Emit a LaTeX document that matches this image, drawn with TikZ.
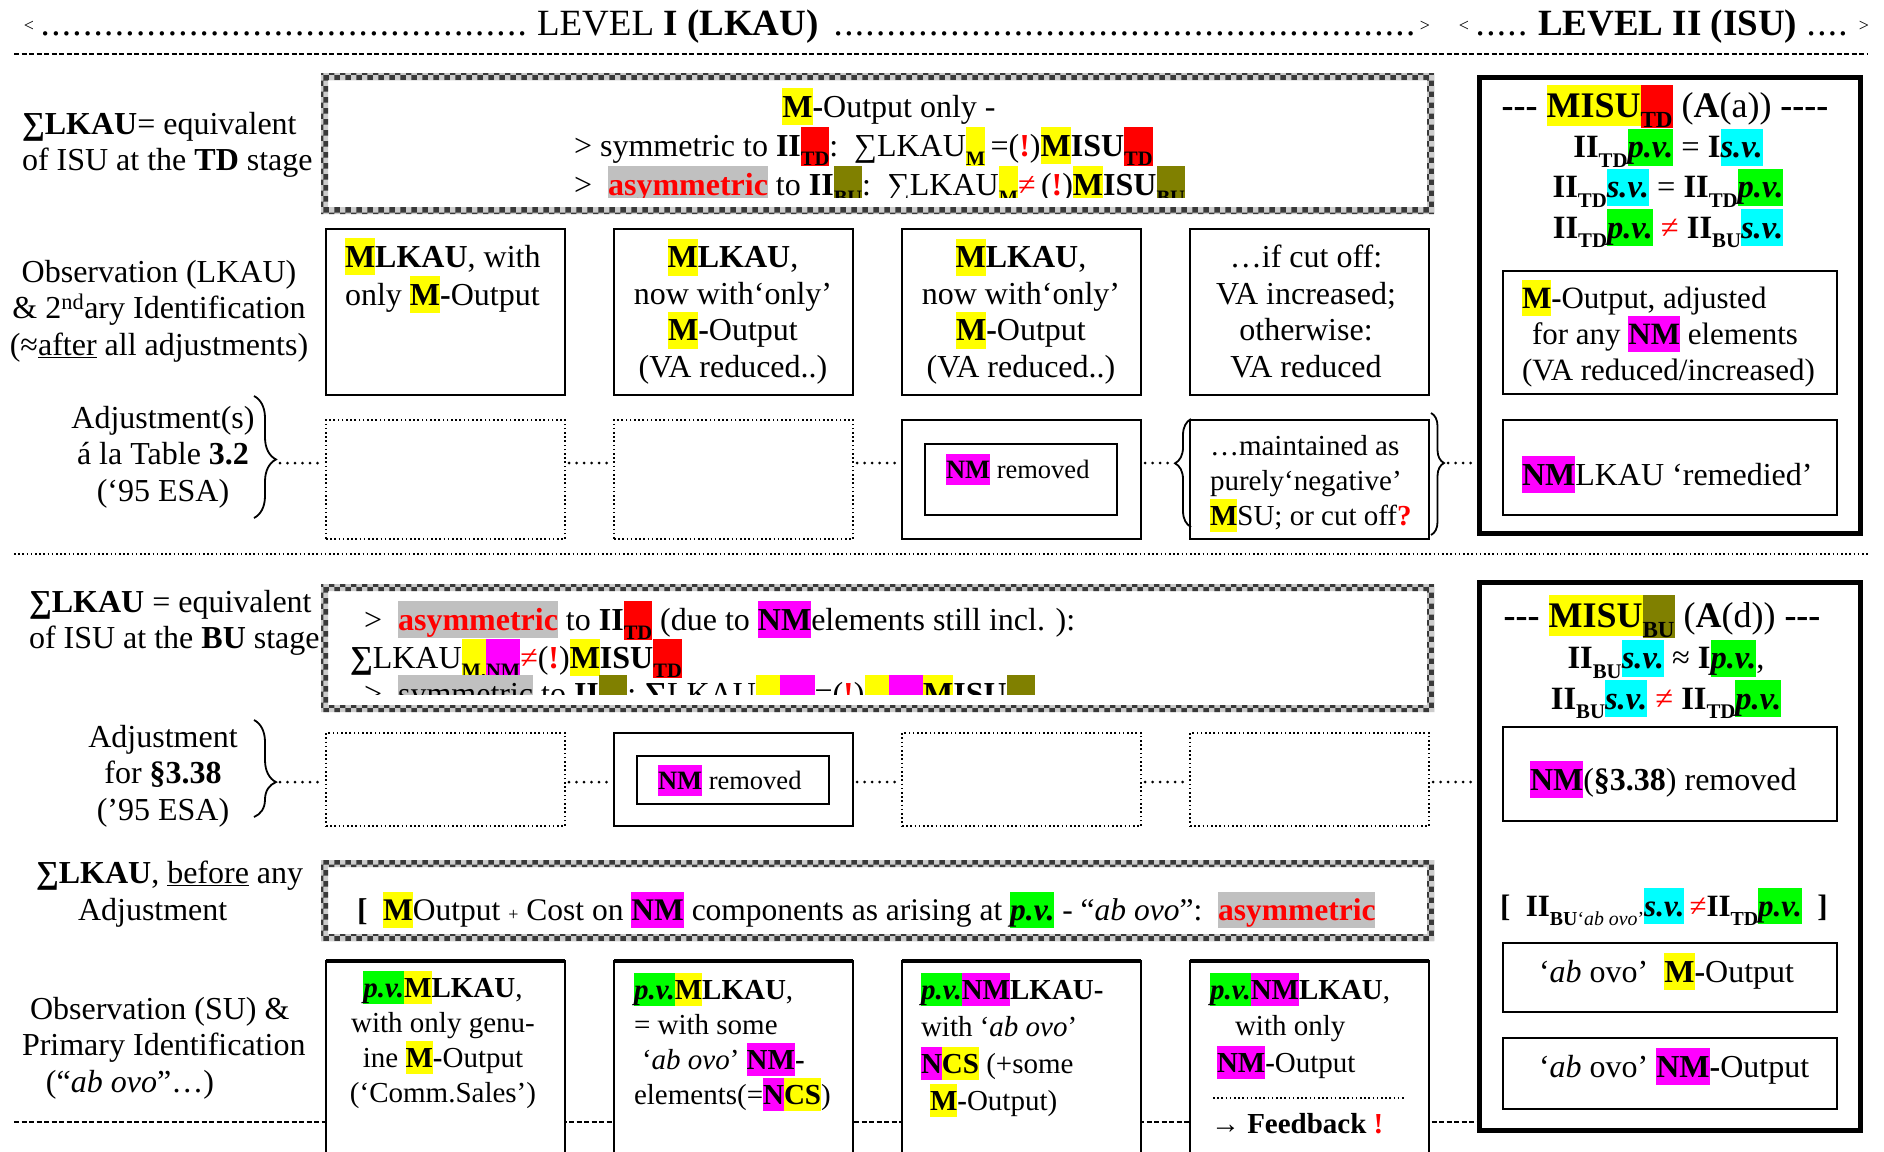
\documentclass[tikz,border=0pt]{standalone}
\usepackage{fontspec}
\setmainfont{Liberation Serif}
\usetikzlibrary{patterns,decorations.pathreplacing}
\definecolor{hy}{HTML}{FFFF00}
\definecolor{hr}{HTML}{FF0000}
\definecolor{hm}{HTML}{FF00FF}
\definecolor{hg}{HTML}{00FF00}
\definecolor{hc}{HTML}{00FFFF}
\definecolor{ho}{HTML}{808000}
\definecolor{hgr}{HTML}{C0C0C0}
\definecolor{rd}{HTML}{FF0000}
\makeatletter
% highlighted run of text, full line height
\newcommand\hl[2]{{\setlength\fboxsep{0pt}\colorbox{#1}{\rule[-0.25em]{0pt}{1.15em}#2}}}
% lowered, smaller index text
\newcommand\lo[1]{\raisebox{-0.3em}{\fontsize{\the\dimexpr0.64\dimexpr\f@size pt\relax\relax}{0pt}\selectfont #1}}
\makeatother
\newcommand\hlM{\hl{hy}{\textbf{M}}}
\newcommand\hlNM{\hl{hm}{\textbf{NM}}}
\newcommand\hlPV{\hl{hg}{\textbf{\textit{p.v.}}}}
\newcommand\hlSV{\hl{hc}{\textbf{\textit{s.v.}}}}
\newcommand\redex{\textcolor{rd}{\textbf{!}}}
\newcommand\asymm{\hl{hgr}{\textcolor{rd}{\textbf{asymmetric}}}}
\newcommand\tdash{\textbf{-{}-{}-}}
\newcommand\dotrun[1]{\hbox to #1{\leaders\hbox to 10.6pt{\hss.\hss}\hfill}}
% grey chequered frame
\newcommand\chkframe[4]{%
  \fill[gray!40,even odd rule] (#1,#2) rectangle (#3,#4) (#1+7,#2+7) rectangle (#3-7,#4-7);
  \fill[pattern=checkerboard,pattern color=gray!45!black,even odd rule] (#1,#2) rectangle (#3,#4) (#1+7,#2+7) rectangle (#3-7,#4-7);}
\begin{document}
\begin{tikzpicture}[x=1pt,y=-1pt,
  every node/.style={inner sep=0pt,outer sep=0pt,font=\fontsize{32}{37}\selectfont},
  tl/.style={anchor=base west},
  tc/.style={anchor=base},
  f32/.style={font=\fontsize{32}{36.5}\selectfont},
  f29/.style={font=\fontsize{29}{35}\selectfont},
  f30/.style={font=\fontsize{30}{37}\selectfont},
  f26/.style={font=\fontsize{26.5}{32}\selectfont},
  ttl/.style={font=\fontsize{36}{37}\selectfont},
  eqn/.style={font=\fontsize{32.5}{37}\selectfont},
  hdr/.style={font=\fontsize{37}{40}\selectfont},
  ang/.style={font=\fontsize{18}{18}\selectfont},
  solidbox/.style={draw,line width=2.6pt,fill=white,anchor=north west},
  dotbox/.style={draw,line width=1.6pt,dash pattern=on 1.6pt off 2.6pt,fill=white,anchor=north west},
  bigbox/.style={draw,line width=5pt,anchor=north west},
  innerbox/.style={draw,line width=2.4pt,anchor=north west},
  dotlink/.style={line width=3pt,line cap=round,dash pattern=on 0pt off 7.5pt,shorten <=4pt,shorten >=4pt},
  cbrace/.style={decorate,line width=1.8pt},
  ruledash/.style={line width=2pt,dash pattern=on 5pt off 2.5pt},
  ruledot/.style={line width=1.8pt,dash pattern=on 1.6pt off 2.6pt},
]
\fill[white] (0,0) rectangle (1884,1151);
\useasboundingbox (0,0) rectangle (1884,1151);

% ---------- header ----------
\node[ang] (ltA) at (29,26) {<};
\node[tl,hdr] (dotA) at (40,35) {\dotrun{489pt}};
\node[tl,hdr] (lvlI) at (537,35) {LEVEL \textbf{I (LKAU)}};
\node[tl,hdr] (dotB) at (833,35) {\dotrun{585pt}};
\node[ang] (gtA) at (1425,26) {>};
\node[ang] (ltB) at (1464,26) {<};
\node[tl,hdr] (dotC) at (1475,35) {\dotrun{53pt}};
\node[tl,hdr] (lvlII) at (1538,35) {\textbf{LEVEL II (ISU)}};
\node[tl,hdr] (dotD) at (1806,35) {\dotrun{44pt}};
\node[ang] (gtB) at (1864,26) {>};
\draw[ruledash] (14,54) -- (1868,54);

% ---------- separators ----------
\draw[ruledot] (14,554) -- (1868,554);
\draw[ruledash] (14,1122) -- (1478,1122);

% ---------- chequered frames ----------
\chkframe{321}{73}{1434}{214}
\chkframe{321}{584}{1434}{712}
\chkframe{321}{860}{1434}{941}

% ---------- left column (multi-line nodes sit on their last baseline) ----------
\node[tl] (lab1a) at (22,134) {\textbf{∑LKAU}= equivalent};
\node[tl] (lab1b) at (22,170) {of ISU at the \textbf{TD} stage};
\node[tc,f32,align=center] (lab2) at (159,355) {Observation (LKAU)\\\& 2\textsuperscript{nd}ary Identification\\(≈\underline{after} all adjustments)};
\node[tc,f32,align=center] (lab3) at (163,501) {Adjustment(s)\\á la Table \textbf{3.2}\\(‘95 ESA)};
\node[tl] (lab4a) at (29,612) {\textbf{∑LKAU} = equivalent};
\node[tl] (lab4b) at (29,648) {of ISU at the \textbf{BU} stage};
\node[tc,f32,align=center] (lab5) at (163,820) {Adjustment\\for \textbf{§3.38}\\(’95 ESA)};
\node[tl] (lab6a) at (36,883) {\textbf{∑LKAU}, \underline{before} any};
\node[tl] (lab6b) at (78,920) {Adjustment};
\node[tl,f32,align=left] (lab7) at (22,1092) {\hspace*{8pt}Observation (SU) \&\\Primary Identification\\\hspace*{24pt}(“\textit{ab ovo}”…)};

% ---------- TD summary ----------
\begin{scope}
\clip (328,80) rectangle (1427,197);
\node[tc] (td1) at (889,117) {\hlM\textbf{-}Output only -};
\node[tl] (td2) at (574,156) {> symmetric to \textbf{II}\hl{hr}{\lo{\textbf{TD}}}:\ \ ∑LKAU\hl{hy}{\lo{\textbf{M}}}\,=(\redex)\hlM\textbf{ISU}\hl{hr}{\lo{\textbf{TD}}}};
\node[tl] (td3) at (574,195) {>\ \ \asymm\ to \textbf{II}\hl{ho}{\lo{\textbf{BU}}}:\ \ ∑LKAU\hl{hy}{\lo{\textbf{M}}}\textcolor{rd}{≠}\,(\redex)\hlM\textbf{ISU}\hl{ho}{\lo{\textbf{BU}}}};
\end{scope}

% ---------- row: observation (LKAU) ----------
\node[solidbox,minimum width=239pt,minimum height=166pt] (b21) at (326,229) {};
\node[solidbox,minimum width=239pt,minimum height=166pt] (b22) at (614,229) {};
\node[solidbox,minimum width=239pt,minimum height=166pt] (b23) at (902,229) {};
\node[solidbox,minimum width=239pt,minimum height=166pt] (b24) at (1190,229) {};
\node[tl,f32,align=left] (t21) at (345,305) {\hlM\textbf{LKAU}, with\\only \hlM\textbf{-}Output};
\node[tc,f32,align=center] (t22) at (733,377) {\hlM\textbf{LKAU},\\now with‘only’\\\hlM\textbf{-}Output\\(VA reduced..)};
\node[tc,f32,align=center] (t23) at (1021,377) {\hlM\textbf{LKAU},\\now with‘only’\\\hlM\textbf{-}Output\\(VA reduced..)};
\node[tc,f32,align=center] (t24) at (1306,377) {…if cut off:\\VA increased;\\otherwise:\\VA reduced};

% ---------- row: adjustments (Table 3.2) ----------
\node[dotbox,minimum width=239pt,minimum height=119pt] (b31) at (326,420) {};
\node[dotbox,minimum width=239pt,minimum height=119pt] (b32) at (614,420) {};
\node[solidbox,minimum width=239pt,minimum height=119pt] (b33) at (902,420) {};
\node[innerbox,minimum width=192pt,minimum height=71pt] (b33in) at (925,444) {};
\node[tl,f26] (t33) at (946,478) {\hlNM\ removed};
\node[solidbox,minimum width=239pt,minimum height=119pt] (b34) at (1190,420) {};
\node[tl,f29,align=left] (t34) at (1210,525) {…maintained as\\purely‘negative’\\\hlM SU; or cut off\textcolor{rd}{\textbf{?}}};

% ---------- level II, upper box ----------
\node[bigbox,minimum width=381pt,minimum height=456pt] (lv2a) at (1479.5,77.5) {};
\node[tc,ttl] (lv2at) at (1665,117) {\tdash\ \hl{hy}{\textbf{MISU}}\hl{hr}{\lo{\textbf{TD}}} (\textbf{A}(a)) \textbf{-{}-{}-{}-}};
\node[tc,eqn,align=center] (lv2ab) at (1668,238) {\textbf{II}\lo{\textbf{TD}}\hlPV\ = \textbf{I}\hlSV\\\textbf{II}\lo{\textbf{TD}}\hlSV\ = \textbf{II}\lo{\textbf{TD}}\hlPV\\\textbf{II}\lo{\textbf{TD}}\hlPV\ \textcolor{rd}{≠} \textbf{II}\lo{\textbf{BU}}\hlSV};
\node[innerbox,minimum width=334pt,minimum height=123pt] (lv2a1) at (1503,271) {};
\node[tl,font=\fontsize{31}{36}\selectfont,align=left] (lv2a1t) at (1522,380) {\hlM\textbf{-}Output, adjusted\\\hspace*{10pt}for any \hlNM\ elements\\(VA reduced/increased)};
\node[innerbox,minimum width=334pt,minimum height=95pt] (lv2a2) at (1503,420) {};
\node[tl] (lv2a2t) at (1522,485) {\hlNM LKAU ‘remedied’};

% ---------- BU summary ----------
\begin{scope}
\clip (328,591) rectangle (1427,694);
\node[tl] (bu1) at (364,630) {>\ \ \asymm\ to \textbf{II}\hl{hr}{\lo{\textbf{TD}}} (due\ to \hlNM elements still incl. ):};
\node[tl] (bu2) at (350,668) {\textbf{∑}LKAU\hl{hy}{\lo{\textbf{M,}}}\hl{hm}{\lo{\textbf{NM}}}\textcolor{rd}{≠}(\redex)\hlM\textbf{ISU}\hl{hr}{\lo{\textbf{TD}}}};
\node[tl] (bu3) at (364,704) {>\ \ \hl{hgr}{symmetric} to \textbf{II}\hl{ho}{\lo{\textbf{BU}}}:\ \textbf{∑}LKAU\hl{hy}{\lo{\textbf{M,}}}\hl{hm}{\lo{\textbf{NM}}}=(\redex)\hl{hy}{\lo{\textbf{M,}}}\hl{hm}{\lo{\textbf{NM}}}\hlM\textbf{ISU}\hl{ho}{\lo{\textbf{BU}}}};
\end{scope}

% ---------- row: adjustment for 3.38 ----------
\node[dotbox,minimum width=239pt,minimum height=93pt] (b51) at (326,733) {};
\node[solidbox,minimum width=239pt,minimum height=93pt] (b52) at (614,733) {};
\node[innerbox,minimum width=192pt,minimum height=48pt] (b52in) at (637,756) {};
\node[tl,f26] (t52) at (658,789) {\hlNM\ removed};
\node[dotbox,minimum width=239pt,minimum height=93pt] (b53) at (902,733) {};
\node[dotbox,minimum width=239pt,minimum height=93pt] (b54) at (1190,733) {};

% ---------- before any adjustment ----------
\node[tl,font=\fontsize{31.5}{37}\selectfont] (ab1) at (357,920) {\textbf{[}\ \ \hlM Output {\fontsize{18}{18}\selectfont +} Cost on \hlNM\ components as arising at \hlPV\ - “\textit{ab ovo}”:\ \ \asymm};

% ---------- level II, lower box ----------
\node[bigbox,minimum width=381pt,minimum height=548pt] (lv2b) at (1479.5,582.5) {};
\node[tc,ttl] (lv2bt) at (1662,627) {\tdash\ \hl{hy}{\textbf{MISU}}\hl{ho}{\lo{\textbf{BU}}} (\textbf{A}(d)) \tdash};
\node[tc,eqn,align=center] (lv2bb) at (1666,709) {\textbf{II}\lo{\textbf{BU}}\hlSV\ ≈ \textbf{I}\hlPV,\\\textbf{II}\lo{\textbf{BU}}\hlSV\ \textcolor{rd}{≠} \textbf{II}\lo{\textbf{TD}}\hlPV};
\node[innerbox,minimum width=334pt,minimum height=94pt] (lv2b1) at (1503,727) {};
\node[tl] (lv2b1t) at (1530,790) {\hlNM(\textbf{§3.38}) removed};
\node[tl,font=\fontsize{31}{37}\selectfont] (lv2bx) at (1500,916) {\textbf{[}\ \ \textbf{II}\lo{\textbf{BU}‘\textit{ab ovo}’}\hlSV\,\textcolor{rd}{≠}\textbf{II}\lo{\textbf{TD}}\hlPV\ \ \textbf{]}};
\node[innerbox,minimum width=334pt,minimum height=69pt] (lv2b2) at (1503,943) {};
\node[tl] (lv2b2t) at (1539,982) {‘\textit{ab} ovo’\ \ \hlM\textbf{-}Output};
\node[innerbox,minimum width=334pt,minimum height=71pt] (lv2b3) at (1503,1038) {};
\node[tl] (lv2b3t) at (1539,1077) {‘\textit{ab} ovo’ \hlNM\textbf{-}Output};

% ---------- row: observation (SU) ----------
\node[solidbox,minimum width=239pt,minimum height=230pt] (b71) at (326,961) {};
\node[solidbox,minimum width=239pt,minimum height=230pt] (b72) at (614,961) {};
\node[solidbox,minimum width=239pt,minimum height=230pt] (b73) at (902,961) {};
\node[solidbox,minimum width=239pt,minimum height=230pt] (b74) at (1190,961) {};
\foreach \b in {b71,b72,b73,b74} \draw[line width=4pt] (\b.north west) -- (\b.north east);
\node[tc,f29,align=center] (t71) at (443,1102) {\hlPV\hlM\textbf{LKAU},\\with only genu-\\ine \hlM\textbf{-}Output\\(‘Comm.Sales’)};
\node[tl,f29,align=left] (t72) at (634,1104) {\hlPV\hlM\textbf{LKAU},\\= with some\\\hspace*{8pt}‘\textit{ab ovo}’ \hlNM\textbf{-}\\elements(=\hl{hm}{\textbf{N}}\hl{hy}{\textbf{CS}})};
\node[tl,font=\fontsize{29}{37}\selectfont,align=left] (t73) at (921,1110) {\hlPV\hlNM\textbf{LKAU-}\\with ‘\textit{ab ovo}’\\\hl{hm}{\textbf{N}}\hl{hy}{\textbf{CS}} (+some\\\hspace*{9pt}\hlM\textbf{-}Output)};
\node[tl,font=\fontsize{29}{36.5}\selectfont,align=left] (t74) at (1210,1072) {\hlPV\hlNM\textbf{LKAU},\\\hspace*{25pt}with only\\\hspace*{7pt}\hlNM\textbf{-}Output};
\draw[ruledot] (1213,1098) -- (1406,1098);
\node[tl,f29] (t74b) at (1211,1133) {→ \textbf{Feedback} \textcolor{rd}{\textbf{!}}};

% ---------- braces ----------
\draw[cbrace,decoration={brace,amplitude=22pt,aspect=0.52}] (254,396) -- (254,518);
\draw[cbrace,decoration={brace,amplitude=22pt,aspect=0.64}] (254,720) -- (254,817);
\draw[cbrace,decoration={brace,amplitude=16pt,aspect=0.59}] (1191,527) -- (1191,419);
\draw[cbrace,decoration={brace,amplitude=13pt,aspect=0.41}] (1431,413) -- (1431,535);
\coordinate (br3tip) at (276,463);
\coordinate (br5tip) at (276,782);
\coordinate (lb34tip) at (1175,463);
\coordinate (rb34tip) at (1444,463);
\coordinate (r3) at (0,463);
\coordinate (r5) at (0,782);

% ---------- dotted links ----------
\draw[dotlink] (br3tip) -- (b31.west |- r3);
\draw[dotlink] (b31.east |- r3) -- (b32.west |- r3);
\draw[dotlink] (b32.east |- r3) -- (b33.west |- r3);
\draw[dotlink] (b33.east |- r3) -- (lb34tip);
\draw[dotlink] (rb34tip) -- (lv2a.west |- r3);
\draw[dotlink] (br5tip) -- (b51.west |- r5);
\draw[dotlink] (b51.east |- r5) -- (b52.west |- r5);
\draw[dotlink] (b52.east |- r5) -- (b53.west |- r5);
\draw[dotlink] (b53.east |- r5) -- (b54.west |- r5);
\draw[dotlink] (b54.east |- r5) -- (lv2b.west |- r5);
\end{tikzpicture}
\end{document}
